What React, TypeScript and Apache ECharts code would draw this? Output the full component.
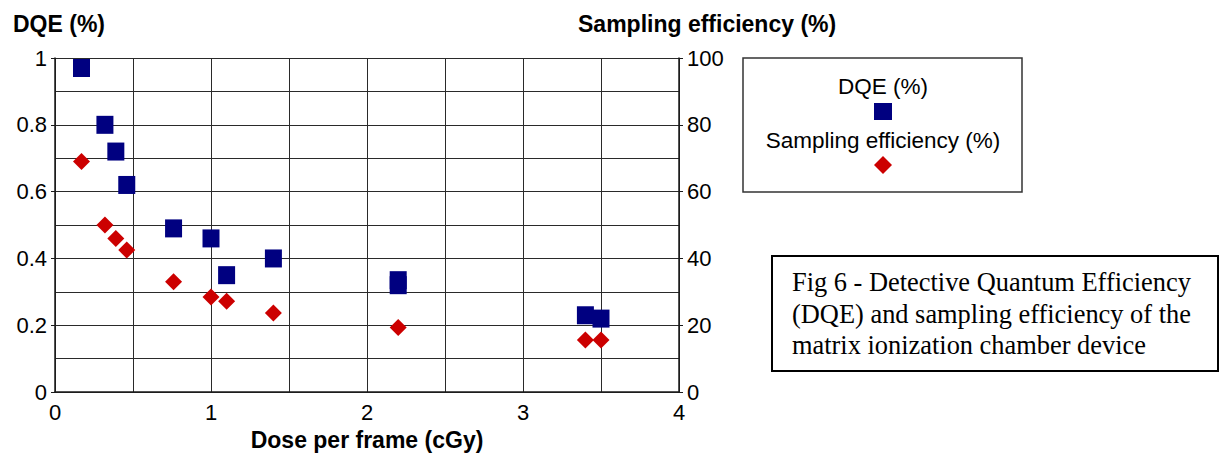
import React, { useEffect, useRef } from "react";
import * as echarts from "echarts";

const doseDQE = [0.17, 0.32, 0.39, 0.46, 0.76, 1.0, 1.1, 1.4, 2.2, 2.2, 3.4, 3.5];
const dqeValues = [0.97, 0.8, 0.72, 0.62, 0.49, 0.46, 0.35, 0.4, 0.335, 0.32, 0.23, 0.22];
const doseSampling = [0.17, 0.32, 0.39, 0.46, 0.76, 1.0, 1.1, 1.4, 2.2, 3.4, 3.5];
const samplingValues = [69, 50, 46, 42.5, 33, 28.5, 27.2, 23.7, 19.3, 15.6, 15.6];

const xTitle = "Dose per frame (cGy)";
const leftTitle = "DQE (%)";
const rightTitle = "Sampling efficiency (%)";
const seriesNames = ["DQE (%)", "Sampling efficiency (%)"];
const captionLines = [
  "Fig 6 - Detective Quantum Efficiency",
  "(DQE) and sampling efficiency of the",
  "matrix ionization chamber device",
];

const SANS = "'Liberation Sans', Arial, Helvetica, sans-serif";
const SERIF = "'Liberation Serif', 'Times New Roman', serif";
const NAVY = "#000080";
const RED = "#cc0000";

export default function App() {
  const ref = useRef<HTMLDivElement>(null);

  useEffect(() => {
    if (!ref.current) return;
    const chart = echarts.init(ref.current, null, { renderer: "svg" });
    const gridLine = { color: "#2a2a2a", width: 1, opacity: 1 };
    const axisLine = { show: true, lineStyle: { color: "#1a1a1a", width: 1.5 } };
    const label = { color: "#000", fontFamily: SANS, fontSize: 22 };

    const legendCx = 883;
    const option: any = {
      animation: false,
      backgroundColor: "#fff",
      grid: { left: 55, right: 541, top: 58, bottom: 60, containLabel: false },
      xAxis: {
        type: "value",
        min: 0,
        max: 4,
        interval: 1,
        name: xTitle,
        nameLocation: "middle",
        nameGap: 28,
        nameTextStyle: { color: "#000", fontFamily: SANS, fontSize: 23, fontWeight: "bold" },
        axisLine,
        axisTick: { show: false },
        axisLabel: { ...label, margin: 9 },
        splitLine: { show: true, lineStyle: gridLine },
        minorTick: { show: false, splitNumber: 2 },
        minorSplitLine: { show: true, lineStyle: gridLine },
      },
      yAxis: [
        {
          type: "value",
          min: 0,
          max: 1,
          interval: 0.2,
          position: "left",
          axisLine,
          axisTick: { show: true, length: 4, lineStyle: { color: "#1a1a1a" } },
          axisLabel: { ...label, margin: 8 },
          splitLine: { show: true, lineStyle: gridLine },
          minorTick: { show: false, splitNumber: 2 },
          minorSplitLine: { show: true, lineStyle: gridLine },
        },
        {
          type: "value",
          min: 0,
          max: 100,
          interval: 20,
          position: "right",
          axisLine,
          axisTick: { show: true, length: 4, lineStyle: { color: "#1a1a1a" } },
          axisLabel: { ...label, margin: 8 },
          splitLine: { show: false },
        },
      ],
      series: [
        {
          name: seriesNames[0],
          type: "scatter",
          yAxisIndex: 0,
          symbol: "rect",
          symbolSize: [17, 18],
          itemStyle: { color: NAVY, opacity: 1 },
          data: doseDQE.map((x, i) => [x, dqeValues[i]]),
        },
        {
          name: seriesNames[1],
          type: "scatter",
          yAxisIndex: 1,
          symbol: "diamond",
          symbolSize: [17, 17],
          itemStyle: { color: RED, opacity: 1 },
          data: doseSampling.map((x, i) => [x, samplingValues[i]]),
        },
      ],
      graphic: [
        {
          type: "text",
          left: 13,
          top: 12,
          style: { text: leftTitle, fill: "#000", font: `bold 23px ${SANS}` },
        },
        {
          type: "text",
          left: 578,
          top: 12,
          style: { text: rightTitle, fill: "#000", font: `bold 23px ${SANS}` },
        },
        {
          type: "rect",
          shape: { x: 743, y: 58, width: 279, height: 134 },
          style: { fill: "#fff", stroke: "#333", lineWidth: 1.5 },
        },
        {
          type: "text",
          x: legendCx,
          y: 86,
          style: {
            text: seriesNames[0],
            fill: "#000",
            font: `22.5px ${SANS}`,
            align: "center",
            verticalAlign: "middle",
          },
        },
        {
          type: "rect",
          shape: { x: legendCx - 9, y: 103, width: 18, height: 17 },
          style: { fill: NAVY },
        },
        {
          type: "text",
          x: legendCx,
          y: 140,
          style: {
            text: seriesNames[1],
            fill: "#000",
            font: `22.5px ${SANS}`,
            align: "center",
            verticalAlign: "middle",
          },
        },
        {
          type: "polygon",
          shape: {
            points: [
              [legendCx, 156],
              [legendCx + 9, 165],
              [legendCx, 174],
              [legendCx - 9, 165],
            ],
          },
          style: { fill: RED },
        },
        {
          type: "rect",
          shape: { x: 772, y: 256, width: 446, height: 115 },
          style: { fill: "#fff", stroke: "#000", lineWidth: 2 },
        },
        ...captionLines.map((t, i) => ({
          type: "text",
          x: 792,
          y: 282 + i * 31.5,
          style: {
            text: t,
            fill: "#000",
            font: `26.4px ${SERIF}`,
            align: "left",
            verticalAlign: "middle",
          },
        })),
      ],
    };
    chart.setOption(option);
    return () => chart.dispose();
  }, []);

  return (
    <div
      ref={ref}
      style={{ position: "absolute", left: 0, top: 0, width: 1220, height: 456 }}
    />
  );
}
